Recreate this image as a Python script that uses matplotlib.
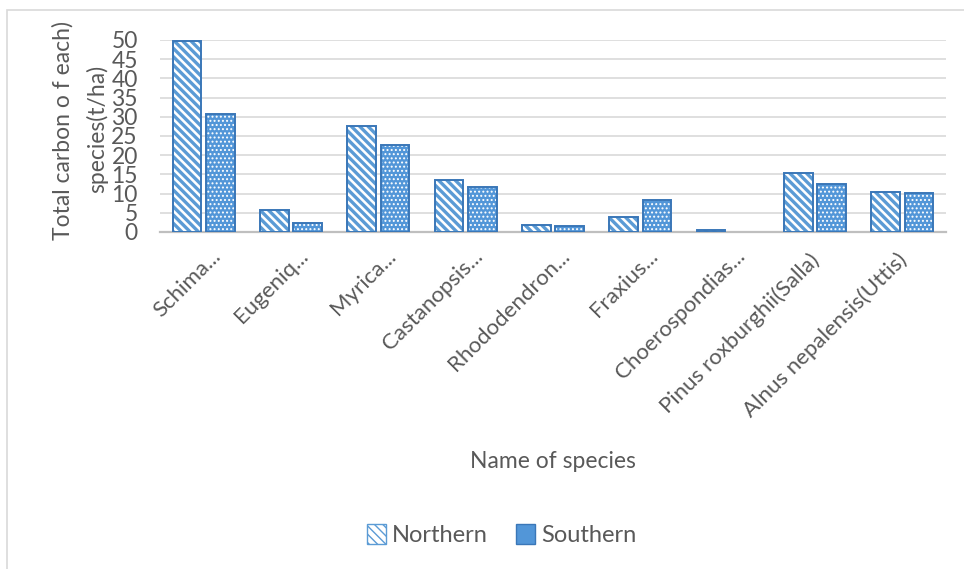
import matplotlib
matplotlib.use("Agg")
import matplotlib.pyplot as plt
import matplotlib.transforms as mtransforms
from matplotlib.patches import Rectangle, Patch
import numpy as np

# Data
species = ["Schima...", "Eugeniq...", "Myrica...", "Castanopsis...",
           "Rhododendron...", "Fraxius...", "Choerospondias...",
           "Pinus roxburghii(Salla)", "Alnus nepalensis(Uttis)"]
northern = [49.7, 5.7, 27.7, 13.5, 1.9, 3.8, 0.5, 15.4, 10.5]
southern = [30.7, 2.3, 22.6, 11.6, 1.6, 8.3, 0.0, 12.5, 10.2]
yticks = [0, 5, 10, 15, 20, 25, 30, 35, 40, 45, 50]

plt.rcParams['font.family'] = ['Lato', 'DejaVu Sans']
TXT = '#595959'
EDGE = '#3A77B8'
STRIPE = '#5B9BD5'
FILL = '#5296D8'

fig = plt.figure(figsize=(9.64, 5.69), dpi=100)
ax = fig.add_axes([160/964, 1-232/569, (946-160)/964, (232-40)/569])

# chart frame
fig.patches.append(Rectangle((7/964, -0.05), 1.2, 1-10/569+0.05,
                             transform=fig.transFigure, fill=False,
                             edgecolor='#D9D9D9', linewidth=1.2, zorder=0))

x = np.arange(len(species))
w = 0.33
off = 0.19

# Northern: white bars with blue diagonal stripes
with plt.rc_context({'hatch.linewidth': 2.4}):
    ax.bar(x - off, northern, w, facecolor='white', edgecolor=STRIPE,
           hatch='\\\\\\\\', linewidth=0, zorder=3)
ax.bar(x - off, northern, w, facecolor='none', edgecolor=EDGE,
       linewidth=[1.4 if v > 0 else 0 for v in northern], zorder=4)

# Southern: blue bars with white dots
ax.bar(x + off, southern, w, facecolor=FILL, edgecolor='none',
       linewidth=0, zorder=3)
with plt.rc_context({'hatch.linewidth': 0.9}):
    ax.bar(x + off, southern, w, facecolor='none', edgecolor='white',
           hatch='....', linewidth=0, zorder=4)
ax.bar(x + off, southern, w, facecolor='none', edgecolor=EDGE,
       linewidth=[1.4 if v > 0 else 0 for v in southern], zorder=5)

ax.set_xlim(-0.5, len(species) - 0.5)
ax.set_ylim(0, 50)
ax.set_yticks(yticks)
ax.set_yticklabels([str(v) for v in yticks], fontsize=16.5, color=TXT)
ax.tick_params(axis='y', length=0, pad=16)
ax.tick_params(axis='x', length=0)
ax.yaxis.grid(True, color='#D9D9D9', linewidth=1.2, zorder=0)
ax.set_axisbelow(True)
for s in ['top', 'right', 'left']:
    ax.spines[s].set_visible(False)
ax.spines['bottom'].set_color('#BFBFBF')
ax.spines['bottom'].set_linewidth(1.6)

# rotated category labels
ax.set_xticks(x)
ax.set_xticklabels([])
for xi, name in zip(x, species):
    dx = 14 if name.endswith('...') else 1
    dy = -21 if name.endswith('...') else -25
    tr = mtransforms.offset_copy(ax.get_xaxis_transform(), fig=fig,
                                 x=dx*0.72, y=dy*0.72, units='points')
    ax.text(xi, 0, name, transform=tr, rotation=45, rotation_mode='anchor',
            ha='right', va='center', fontsize=16, color=TXT)

# axis titles
fig.text(63/964, 1-131/569, "Total carbon o f each)", rotation=90,
         ha='center', va='center', fontsize=16.5, color=TXT)
fig.text(97/964, 1-129/569, "species(t/ha)", rotation=90,
         ha='center', va='center', fontsize=16.5, color=TXT)
fig.text(553/964, 1-462/569, "Name of species", ha='center', va='center',
         fontsize=16.5, color=TXT)

# legend
with plt.rc_context({'hatch.linewidth': 1.8}):
    h1 = Patch(facecolor='white', edgecolor=STRIPE, hatch='\\\\\\\\', label='Northern')
    h2 = Patch(facecolor=FILL, edgecolor=EDGE, label='Southern')
fig.legend(handles=[h1, h2], loc='center', bbox_to_anchor=(502/964, 1-535/569),
           ncol=2, frameon=False, fontsize=17, labelcolor=TXT,
           handlelength=0.8, handleheight=0.9, handletextpad=0.25,
           columnspacing=1.2)

fig.savefig("out.png", dpi=100)
